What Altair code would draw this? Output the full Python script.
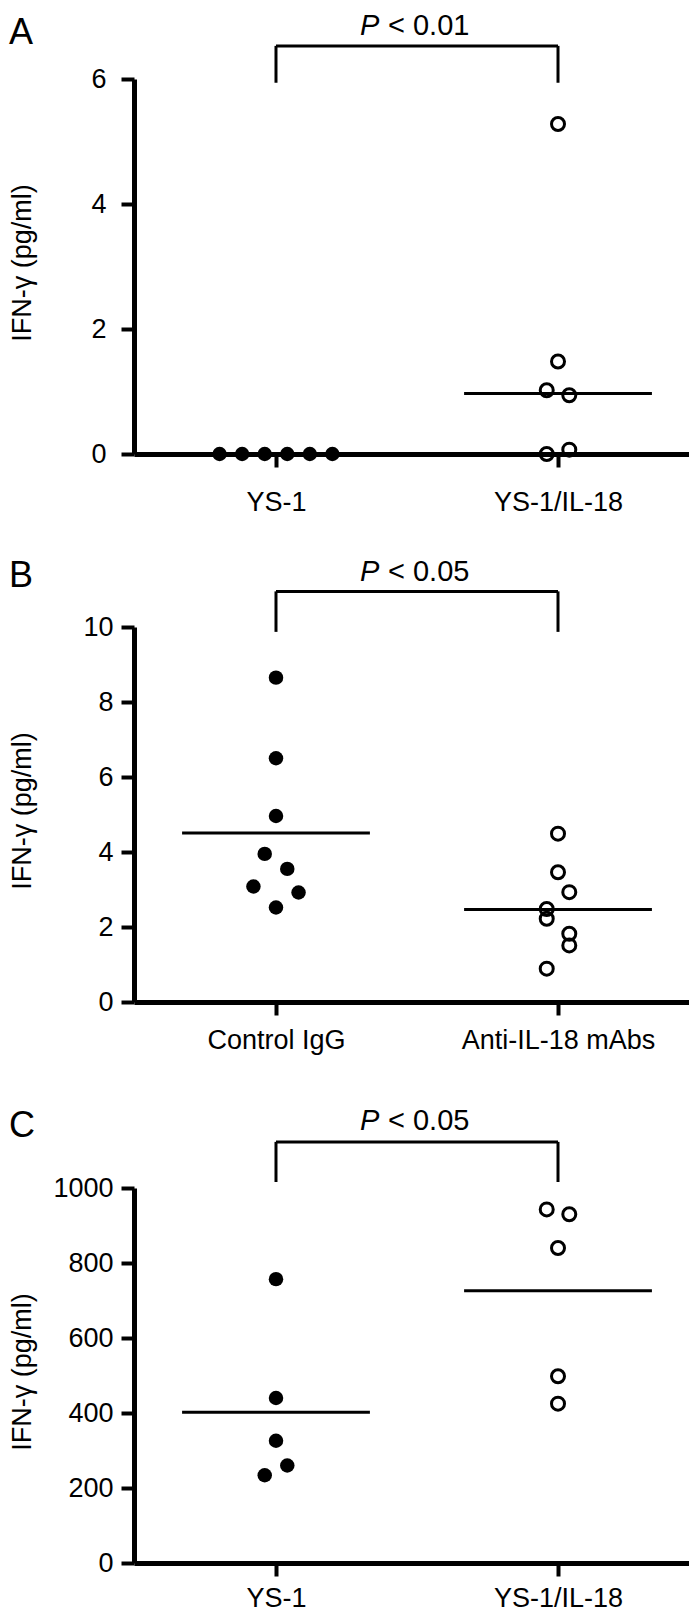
import altair as alt
import pandas as pd

FONT = "Liberation Sans, Arial, Helvetica, sans-serif"

# ---------------- data ----------------
# Panel A
a_groups = ["YS-1", "YS-1/IL-18"]
a_left = [0, 0, 0, 0, 0, 0]
a_left_slot = [-2.5, -1.5, -0.5, 0.5, 1.5, 2.5]
a_right = [5.28, 1.48, 1.02, 0.94, 0.0, 0.07]
a_right_slot = [0, 0, -0.5, 0.5, -0.5, 0.5]
a_means = [0.0, 0.97]
a_yticks = [0, 2, 4, 6]
a_p = "< 0.01"

# Panel B
b_groups = ["Control IgG", "Anti-IL-18 mAbs"]
b_left = [8.65, 6.5, 4.96, 3.95, 3.55, 3.08, 2.92, 2.52]
b_left_slot = [0, 0, 0, -0.5, 0.5, -1, 1, 0]
b_right = [4.49, 3.46, 2.93, 2.48, 2.22, 1.82, 1.51, 0.89]
b_right_slot = [0, 0, 0.5, -0.5, -0.5, 0.5, 0.5, -0.5]
b_means = [4.51, 2.47]
b_yticks = [0, 2, 4, 6, 8, 10]
b_p = "< 0.05"

# Panel C
c_groups = ["YS-1", "YS-1/IL-18"]
c_left = [757, 440, 326, 260, 234]
c_left_slot = [0, 0, 0, 0.5, -0.5]
c_right = [943, 930, 840, 498, 425]
c_right_slot = [-0.5, 0.5, 0, 0, 0]
c_means = [402, 726]
c_yticks = [0, 200, 400, 600, 800, 1000]
c_p = "< 0.05"

# ---------------- layout constants ----------------
SLOT = 0.08
HALF = 0.333
X_DOMAIN = [-0.5035, 1.4645]
PLOT_W = 555
PLOT_H = 375
P_LEFT = 0.298
REST_LEFT = 0.397


def make_panel(letter, groups, left_vals, left_slots, right_vals, right_slots,
               means, ymax, yticks, p_rest, br_top, br_leg, p_y, letter_y,
               x_pad, y_pad):
    pts_left = pd.DataFrame({"pos": [s * SLOT for s in left_slots], "val": left_vals})
    pts_right = pd.DataFrame({"pos": [1 + s * SLOT for s in right_slots], "val": right_vals})
    mean_df = pd.DataFrame({"x1": [0 - HALF, 1 - HALF], "x2": [0 + HALF, 1 + HALF], "val": means})
    br_df = pd.DataFrame({
        "x1": [0, 0, 1], "x2": [1, 0, 1],
        "y1": [br_top, br_leg, br_leg], "y2": [br_top, br_top, br_top],
    })
    p_df = pd.DataFrame({"pos": [P_LEFT], "val": [p_y], "t": ["P"]})
    rest_df = pd.DataFrame({"pos": [REST_LEFT], "val": [p_y], "t": [p_rest]})
    letter_df = pd.DataFrame({"val": [letter_y], "t": [letter]})

    label_expr = f"datum.value == 0 ? '{groups[0]}' : '{groups[1]}'"
    xscale = alt.Scale(domain=X_DOMAIN, nice=False, zero=False)
    yscale = alt.Scale(domain=[0, ymax], nice=False, zero=True)
    xaxis = alt.Axis(values=[0, 1], labelExpr=label_expr, title=None, grid=False,
                     tickSize=13, tickWidth=4, domainWidth=5, domainColor="black",
                     tickColor="black", labelColor="black", labelFontSize=27,
                     labelPadding=x_pad, labelFont=FONT, labelLimit=0)
    yaxis = alt.Axis(values=yticks, format="d", title="IFN-γ (pg/ml)", grid=False,
                     tickSize=13, tickWidth=4, domainWidth=5, domainColor="black",
                     tickColor="black", labelColor="black", labelFontSize=27,
                     labelPadding=y_pad, labelFont=FONT, titleFont=FONT,
                     titleFontSize=27, titleFontWeight="normal", titleColor="black",
                     titleAngle=270, titleAlign="center", titleBaseline="middle",
                     titleX=-111.5, titleY=183.5)

    def X(f):
        return alt.X(f, scale=xscale, axis=xaxis)

    def Y(f):
        return alt.Y(f, scale=yscale, axis=yaxis)

    means_l = alt.Chart(mean_df).mark_rule(color="black", strokeWidth=3).encode(
        x=X("x1:Q"), x2="x2:Q", y=Y("val:Q"))
    filled = alt.Chart(pts_left).mark_point(
        shape="circle", filled=True, color="black", size=210, opacity=1).encode(
        x=X("pos:Q"), y=Y("val:Q"))
    hollow = alt.Chart(pts_right).mark_point(
        shape="circle", filled=False, color="black", size=169, strokeWidth=3,
        opacity=1).encode(x=X("pos:Q"), y=Y("val:Q"))
    bracket = alt.Chart(br_df).mark_rule(color="black", strokeWidth=3).encode(
        x=X("x1:Q"), x2="x2:Q", y=Y("y1:Q"), y2="y2:Q")
    p_italic = alt.Chart(p_df).mark_text(
        font=FONT, fontSize=29, fontStyle="italic", align="left",
        baseline="alphabetic", color="black").encode(
        x=X("pos:Q"), y=Y("val:Q"), text="t:N")
    p_rest_t = alt.Chart(rest_df).mark_text(
        font=FONT, fontSize=29, align="left", baseline="alphabetic",
        color="black").encode(x=X("pos:Q"), y=Y("val:Q"), text="t:N")
    letter_t = alt.Chart(letter_df).mark_text(
        font=FONT, fontSize=36, align="left", baseline="alphabetic",
        color="black").encode(x=alt.value(-125), y=Y("val:Q"), text="t:N")

    return alt.layer(means_l, filled, hollow, bracket, p_italic, p_rest_t,
                     letter_t).properties(width=PLOT_W, height=PLOT_H)


panel_a = make_panel("A", a_groups, a_left, a_left_slot, a_right, a_right_slot,
                     a_means, 6, a_yticks, a_p, 6.53, 5.94, 6.70, 6.56, 22, 15)
panel_b = make_panel("B", b_groups, b_left, b_left_slot, b_right, b_right_slot,
                     b_means, 10, b_yticks, b_p, 10.95, 9.87, 11.24, 11.06, 12, 8)
panel_c = make_panel("C", c_groups, c_left, c_left_slot, c_right, c_right_slot,
                     c_means, 1000, c_yticks, c_p, 1123, 1016, 1155, 1136, 9, 8)

inner = alt.vconcat(panel_b, panel_c, spacing=186, bounds="flush")
chart = (alt.vconcat(panel_a, inner, spacing=173, bounds="flush",
                     padding={"top": 4, "left": 0, "right": 0, "bottom": 0})
         .configure(font=FONT)
         .configure_view(stroke=None))

chart.save("out.html", embed_options={"renderer": "svg", "actions": False})
